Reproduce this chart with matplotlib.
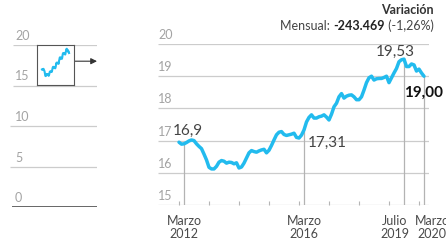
import numpy as np
import matplotlib
matplotlib.use("Agg")
from matplotlib import pyplot as plt
from matplotlib import transforms

plt.rcParams['font.family'] = ['Lato', 'DejaVu Sans']

# afiliados (millones), media mensual, enero 2012 - marzo 2020
afiliados = [
    16.95, 16.89, 16.90, 16.94, 16.99, 17.02, 17.00, 16.90, 16.82, 16.75, 16.58, 16.40,
    16.17, 16.12, 16.12, 16.20, 16.33, 16.38, 16.36, 16.30, 16.33, 16.32, 16.28, 16.31,
    16.15, 16.18, 16.30, 16.46, 16.62, 16.69, 16.66, 16.64, 16.68, 16.71, 16.73, 16.62,
    16.70, 16.85, 17.02, 17.18, 17.26, 17.28, 17.19, 17.16, 17.18, 17.20, 17.23, 17.10,
    17.08, 17.17, 17.33, 17.58, 17.72, 17.80, 17.70, 17.70, 17.74, 17.76, 17.80, 17.73,
    17.64, 17.82, 18.05, 18.16, 18.36, 18.46, 18.32, 18.38, 18.41, 18.42, 18.36, 18.27,
    18.27, 18.36, 18.57, 18.80, 18.95, 19.00, 18.88, 18.92, 18.93, 18.93, 18.96, 19.00,
    18.80, 18.95, 19.10, 19.24, 19.45, 19.51, 19.53, 19.30, 19.30, 19.38, 19.35, 19.16,
    19.22, 19.10, 19.00,
]
meses = np.arange(len(afiliados))  # meses desde enero 2012

marcas = [2, 50, 90, 98]
marca_valores = [16.90, 17.31, 19.53, 19.00]
marca_textos = ['16,9', '17,31', '19,53', '19,00']
fechas = ['Marzo\n2012', 'Marzo\n2016', 'Julio\n2019', 'Marzo\n2020']
ticks_anio = [0, 12, 24, 36, 48, 60, 72, 84, 96]
y_main = [15, 16, 17, 18, 19, 20]
y_small = [0, 5, 10, 15, 20]

azul = '#22bbee'
gris_grid = '#cccccc'
gris_txt = '#a3a3a3'
W, H = 446, 241

fig = plt.figure(figsize=(W / 100, H / 100), dpi=100)

# ---- grafico pequeño (contexto 0-20)
axl = fig.add_axes([10 / W, (H - 207) / H, 87 / W, 162 / H])
axl.set_xlim(10, 97)
axl.set_ylim(0, 20)
axl.axis('off')
for v in y_small:
    x0 = 13 if v >= 15 else 10
    if v == 0:
        axl.hlines(v, 12, 97, color='#666666', lw=1.4)
    else:
        axl.hlines(v, x0, 97, color=gris_grid, lw=0.9)
    axl.annotate(str(v), (15, v), xytext=(0, 3), textcoords='offset pixels',
                 ha='left', va='bottom', fontsize=9, color=gris_txt)
axl.annotate('', xy=(97, 18), xytext=(74, 18),
             arrowprops=dict(arrowstyle='-|>', color='#333333', lw=0.8,
                             mutation_scale=9, shrinkA=0, shrinkB=0))

axb = fig.add_axes([37 / W, (H - 85) / H, 37 / W, 40 / H])
axb.set_facecolor('white')
axb.plot(meses, afiliados, color=azul, lw=1.5)
axb.set_xlim(-18, 116)
axb.set_ylim(15, 20)
axb.set_xticks([])
axb.set_yticks([])
for s in axb.spines.values():
    s.set_color('#555555')
    s.set_linewidth(0.8)

# ---- grafico principal
ax = fig.add_axes([158 / W, (H - 205) / H, 271 / W, 161 / H])
ax.set_xlim(-8.4, 100)
ax.set_ylim(15, 20)
for s in ax.spines.values():
    s.set_visible(False)
ax.set_yticks([])
ax.set_xticks(ticks_anio)
ax.set_xticklabels([])
ax.tick_params(axis='x', direction='in', length=3, width=0.8, color='#b5b5b5')
ax.hlines(y_main, -8.4, 100, color=gris_grid, lw=0.9, zorder=1)
trans = transforms.blended_transform_factory(ax.transAxes, ax.transData)
for v in y_main:
    ax.annotate(str(v), (0, v), xycoords=trans, xytext=(0, 3),
                textcoords='offset pixels', ha='left', va='bottom',
                fontsize=9, color=gris_txt)

ax.vlines(marcas, 15, marca_valores, color='#b3b3b3', lw=0.9, zorder=2)
ax.plot(meses, afiliados, color=azul, lw=2.5, zorder=3,
        solid_capstyle='round', solid_joinstyle='round')

offs = [(4, 9), (4, -16), (-9, 3), (0, -21)]
has = ['center', 'left', 'center', 'center']
for m, v, t, o, h in zip(marcas, marca_valores, marca_textos, offs, has):
    bold = t == '19,00'
    ax.annotate(t, (m, v), xytext=o, textcoords='offset pixels', ha=h,
                va='baseline', fontsize=11,
                color='#111111' if bold else '#444444',
                fontweight='bold' if bold else 'normal', zorder=4)

fx = [0, 0, -9, 8]
for m, t, o in zip(marcas, fechas, fx):
    ax.annotate(t, (m, 15), xytext=(o, -10), textcoords='offset pixels',
                ha='center', va='top', fontsize=9, color='#4a4a4a',
                linespacing=1.15, annotation_clip=False)

# ---- cabecera de variacion
fig.text(434 / W, 1 - 14 / H, 'Variación', ha='right', va='baseline',
         fontsize=9, fontweight='bold', color='#333333')
r = fig.canvas.get_renderer()
x = 434
for t, wgt in [(' (-1,26%)', 'normal'), ('-243.469', 'bold'), ('Mensual: ', 'normal')]:
    tx = fig.text(x / W, 1 - 30 / H, t, ha='right', va='baseline', fontsize=9,
                  fontweight=wgt, color='#444444' if wgt == 'normal' else '#222222')
    x -= tx.get_window_extent(r).width

fig.savefig('out.png', dpi=100)
